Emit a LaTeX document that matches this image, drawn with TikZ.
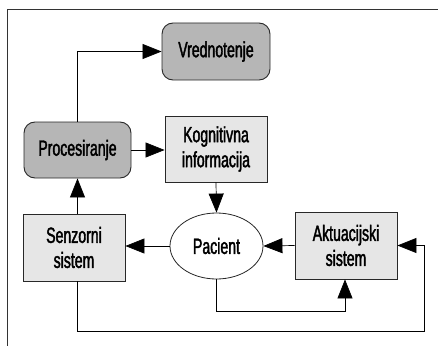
\documentclass[tikz,border=0pt]{standalone}
\usepackage{fontspec}
\setmainfont{Liberation Sans}[FakeStretch=0.64,FakeBold=1.8]
\usetikzlibrary{shapes.geometric,arrows.meta}
\definecolor{darkbox}{RGB}{182,182,182}
\definecolor{lightbox}{RGB}{230,230,230}
\definecolor{edge}{RGB}{40,40,40}
\begin{document}
\begin{tikzpicture}[x=1pt,y=-1pt,
  every node/.style={font=\fontsize{22}{25}\selectfont, align=center, inner sep=0pt, text=black},
  rbox/.style={draw=edge, line width=0.9pt, fill=darkbox, rounded corners=11pt},
  sbox/.style={draw=edge, line width=0.9pt, fill=lightbox},
  conn/.style={draw=black, line width=0.7pt, -{Triangle[length=19pt,width=15pt]}}]
\useasboundingbox (0,0) rectangle (438,345);
\draw[line width=1pt, draw=black!80] (7,10) rectangle (450,360);
\node[rbox, minimum width=108pt, minimum height=57pt] (vred) at (216,51.5) {Vrednotenje};
\node[rbox, minimum width=107pt, minimum height=56pt] (proc) at (77.5,150) {Procesiranje};
\node[sbox, minimum width=102pt, minimum height=66pt] (kog) at (216,149) {Kognitivna\\informacija};
\node[sbox, minimum width=102pt, minimum height=67pt] (senz) at (74,247.5) {Senzorni\\sistem};
\node[ellipse, draw=edge, line width=0.8pt, fill=white, minimum width=93pt, minimum height=66pt] (pac) at (216.5,246) {Pacient};
\node[sbox, minimum width=102pt, minimum height=67pt] (akt) at (346,245.5) {Aktuacijski\\sistem};
\coordinate (p1) at (77.5,51.5);
\coordinate (c1) at (216.5,311);
\coordinate (c2) at (345,311);
\coordinate (d1) at (77.5,331);
\coordinate (d2) at (424,331);
\coordinate (d3) at (424,245.5);
\draw[conn] (proc.north -| p1) -- (p1) -- (vred.west);
\draw[conn] (proc.east) -- (kog.west |- proc.east);
\draw[conn] (kog.south) -- (pac.north);
\draw[conn] (senz.north -| p1) -- (proc.south);
\draw[conn] (pac.west) -- (senz.east |- pac.west);
\draw[conn] (akt.west) -- (pac.east);
\draw[conn] (pac.south) -- (c1) -- (c2) -- (akt.south -| c2);
\draw[conn] (senz.south -| d1) -- (d1) -- (d2) -- (d3) -- (akt.east);
\end{tikzpicture}
\end{document}
